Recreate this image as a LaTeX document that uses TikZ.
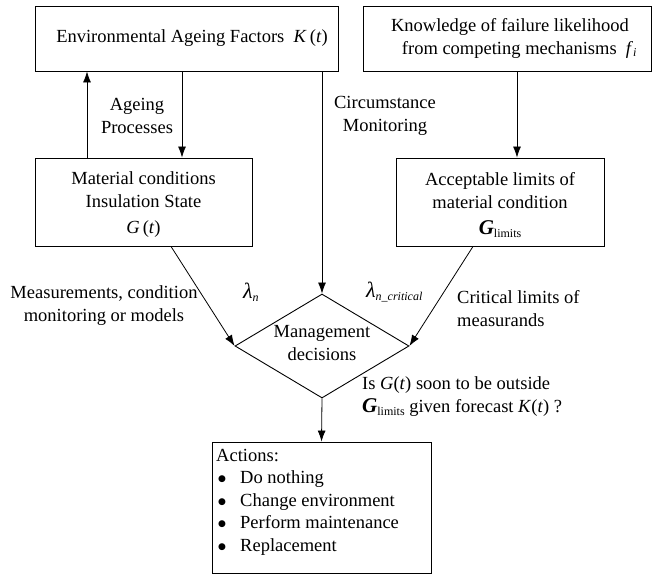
\documentclass[tikz,border=0pt]{standalone}
\usepackage{fontspec}
\setmainfont{Liberation Serif}
\newfontfamily\dvfont{DejaVu Sans}
\usetikzlibrary{shapes.geometric,arrows.meta}
\newcommand{\mi}[1]{\textit{#1}}
\newcommand{\lowsub}[1]{\raisebox{-0.35ex}{\fontsize{12}{12}\selectfont #1}}
\newcommand{\bigdot}{\makebox[24pt][l]{\hspace{2pt}\raisebox{0.25ex}{\dvfont\fontsize{9}{10}\selectfont ●}}}
\begin{document}
\begin{tikzpicture}[x=1pt,y=-1pt,
  every node/.style={font=\fontsize{18.5}{23}\selectfont},
  box/.style={draw,line width=0.9pt,inner sep=0pt},
  lbl/.style={align=center,inner sep=0pt},
  arr/.style={line width=0.8pt,-{Latex[length=11pt,width=8pt]}},
  ln/.style={line width=0.8pt}]
\useasboundingbox (0,0) rectangle (653,575);
\node[box,minimum width=303,minimum height=65] (env) at (186.5,38.5) {};
\node[lbl] at (192,38.5) {Environmental Ageing Factors\ \ \mi{K}\,(\mi{t})};
\node[box,minimum width=288,minimum height=65] (know) at (507.5,38.5) {};
\node[lbl] at (510,38) {Knowledge of failure likelihood\\\hspace*{1em}from competing mechanisms\ \ \mi{f}\lowsub{\mi{i}}};
\node[box,minimum width=217,minimum height=88] (mat) at (143.5,202) {};
\node[lbl] at (143.5,205) {Material conditions\\Insulation State\\[3pt]\mi{G}\,(\mi{t})};
\node[box,minimum width=208,minimum height=88] (acc) at (500,202) {};
\node[lbl] at (500,205) {Acceptable limits of\\material condition\\[3pt]{\fontsize{21}{23}\selectfont\mi{\textbf{G}}}\lowsub{limits}};
\node[box,shape=diamond,minimum width=174,minimum height=104,inner sep=0pt] (dec) at (322,346) {};
\node[lbl] at (322,343) {Management\\decisions};
\node[box,minimum width=219,minimum height=131] (act) at (321.5,507.5) {};
\node[lbl,align=left,anchor=north west] at (216,449) {Actions:\\[-0.5pt]
  \bigdot Do nothing\\[-0.5pt]
  \bigdot Change environment\\[-0.5pt]
  \bigdot Perform maintenance\\[-0.5pt]
  \bigdot Replacement};
% labels
\node[lbl] at (137,116) {Ageing\\Processes};
\node[lbl] at (385,116) {Circumstance\\Monitoring};
\node[lbl] at (104,306) {Measurements, condition\\monitoring or models};
\node[lbl,align=left,anchor=west] at (457,309) {Critical limits of\\measurands};
\node[lbl,anchor=west] at (243,292) {{\fontsize{22}{23}\selectfont\mi{λ}}\lowsub{\mi{n}}};
\node[lbl,anchor=west] at (366,292) {{\fontsize{22}{23}\selectfont\mi{λ}}\lowsub{\mi{n\_critical}}};
\node[lbl,align=left,anchor=west] at (362,397) {Is \mi{G}(\mi{t})\ soon to be outside\\{\fontsize{21}{23}\selectfont\mi{\textbf{G}}}\lowsub{limits}\ given forecast \mi{K}(\mi{t})\ ?};
% connectors
\coordinate (xa) at (87,0);
\coordinate (xb) at (182,0);
\coordinate (xc) at (322,0);
\coordinate (xd) at (517,0);
\coordinate (xe) at (171,0);
\coordinate (xf) at (473,0);
\draw[arr] (mat.north -| xa) -- (env.south -| xa);
\draw[arr] (env.south -| xb) -- (mat.north -| xb);
\draw[arr] (env.south -| xc) -- (dec.north);
\draw[arr] (know.south -| xd) -- (acc.north -| xd);
\draw[arr] (mat.south -| xe) -- (dec.west);
\draw[arr] (acc.south -| xf) -- (dec.east);
\draw[arr] (dec.south) -- (act.north);
\end{tikzpicture}
\end{document}
